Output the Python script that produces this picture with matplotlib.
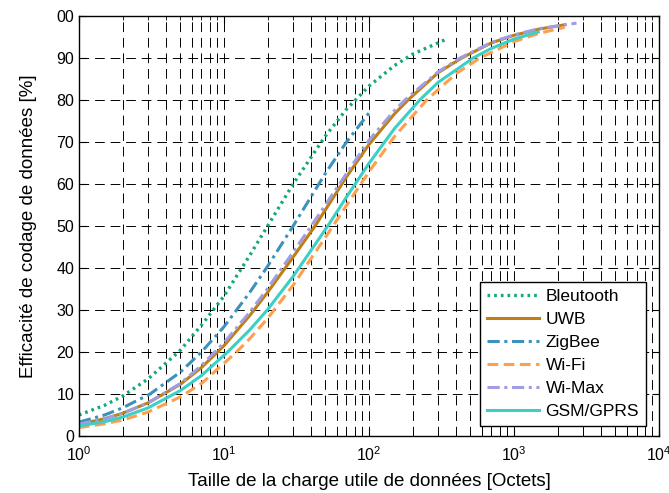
import numpy as np
import matplotlib
matplotlib.use('Agg')
import matplotlib.pyplot as plt

plt.rcParams['font.family'] = ['Liberation Sans', 'DejaVu Sans']

# valeurs (taille utile [octets], efficacité [%])
bt_x = [1, 1.5, 2, 3, 5, 7, 10, 15, 20, 30, 50, 70, 100, 150, 200, 333]
bt_y = [5.0, 7.3, 9.5, 13.6, 20.4, 26.4, 33.3, 42.9, 50.0, 60.0, 71.4, 77.8, 83.3, 88.2, 90.9, 94.3]

uwb_x = [1, 1.5, 2, 3, 5, 7, 10, 15, 20, 30, 42.5, 70, 100, 150, 186, 300, 436, 700, 1000, 1500, 2240]
uwb_y = [2.8, 4.1, 5.4, 7.9, 12.3, 16.3, 21.5, 28.6, 34.2, 42.6, 50.0, 61.7, 69.4, 76.7, 80.0,
         86.5, 90.0, 93.6, 95.4, 96.9, 97.9]

zig_x = [1, 1.5, 2, 3.09, 5, 7, 10, 15, 20, 30, 50, 70, 100]
zig_y = [3.3, 5.0, 6.7, 10.0, 15.2, 20.0, 26.0, 34.1, 40.4, 50.0, 62.5, 70.0, 76.9]

wifi_x = [1, 1.5, 2, 3, 5, 7, 12.2, 15, 20, 30, 56.5, 70, 100, 150, 250, 400, 583, 1000, 1500, 2240]
wifi_y = [2.0, 2.9, 3.8, 5.7, 9.3, 12.5, 20.0, 23.1, 28.0, 35.9, 50.0, 54.9, 62.9, 71.3, 80.0,
          86.3, 90.0, 93.9, 95.9, 97.3]

wimax_x = [1, 1.5, 2, 3, 5, 7, 10, 15, 20, 30, 40, 70, 100, 150, 177, 300, 425, 700, 1000, 1500, 2700]
wimax_y = [2.8, 4.1, 5.4, 7.9, 12.5, 16.8, 22.2, 29.4, 35.1, 43.8, 50.0, 62.5, 70.4, 77.5, 80.0,
           86.7, 90.0, 93.7, 95.5, 97.0, 98.3]

gsm_x = [1, 1.5, 2, 3, 5, 7, 10.6, 15, 20, 30, 52, 70, 100, 150, 224, 300, 524, 700, 1000, 1470]
gsm_y = [2.4, 3.4, 4.5, 6.7, 10.8, 14.4, 20.0, 25.2, 30.1, 38.0, 50.0, 56.9, 64.9, 73.2, 80.0,
         84.2, 90.0, 92.3, 94.5, 96.2]

y_ticks = [0, 10, 20, 30, 40, 50, 60, 70, 80, 90, 100]
y_ticklabels = ['0', '10', '20', '30', '40', '50', '60', '70', '80', '90', '00']

fig = plt.figure(figsize=(6.69, 4.93), dpi=100)
ax = fig.add_axes([0.118, 0.1156, 0.867, 0.852])

ax.plot(bt_x, bt_y, color='#14a87c', lw=2.4, linestyle=(0, (0.8, 1.2)), label='Bleutooth')
ax.plot(uwb_x, uwb_y, color='#bf7f12', lw=2.2, linestyle='-', label='UWB')
ax.plot(zig_x, zig_y, color='#3b93bd', lw=2.2, linestyle=(0, (4, 1.5, 1, 1.5)), label='ZigBee')
ax.plot(wifi_x, wifi_y, color='#ff9e4c', lw=2.2, linestyle=(0, (3.5, 1.8)), label='Wi-Fi')
ax.plot(wimax_x, wimax_y, color='#a09de3', lw=2.2, linestyle=(0, (4, 1.5, 1, 1.5)), label='Wi-Max')
ax.plot(gsm_x, gsm_y, color='#3ccfc6', lw=2.2, linestyle='-', label='GSM/GPRS')

ax.set_xscale('log')
ax.set_xlim(1, 1e4)
ax.set_ylim(0, 100)
ax.set_yticks(y_ticks)
ax.set_yticklabels(y_ticklabels)

# grille pointillée noire (majeure + mineure en x)
ax.grid(True, which='major', color='black', lw=0.7, linestyle=(0, (10, 6)))
ax.grid(True, which='minor', axis='x', color='black', lw=0.7, linestyle=(0, (10, 6)))
ax.set_axisbelow(True)

ax.tick_params(which='both', direction='in', top=True, right=True, labelsize=11.5)
ax.tick_params(which='major', length=5)
ax.tick_params(which='minor', length=3)
ax.tick_params(axis='x', which='major', pad=7)
for s in ax.spines.values():
    s.set_linewidth(1.0)

ax.set_xlabel('Taille de la charge utile de données [Octets]', fontsize=13.5, labelpad=6)
ax.set_ylabel('Efficacité de codage de données [%]', fontsize=13.5, labelpad=14)

leg = ax.legend(loc='lower right', bbox_to_anchor=(0.9776, 0.024), borderaxespad=0,
                fontsize=12.5, handlelength=3.0, handletextpad=0.4, labelspacing=0.45,
                fancybox=False, framealpha=1, edgecolor='black')
leg.get_frame().set_linewidth(1.0)

fig.savefig('out.png', dpi=100)
